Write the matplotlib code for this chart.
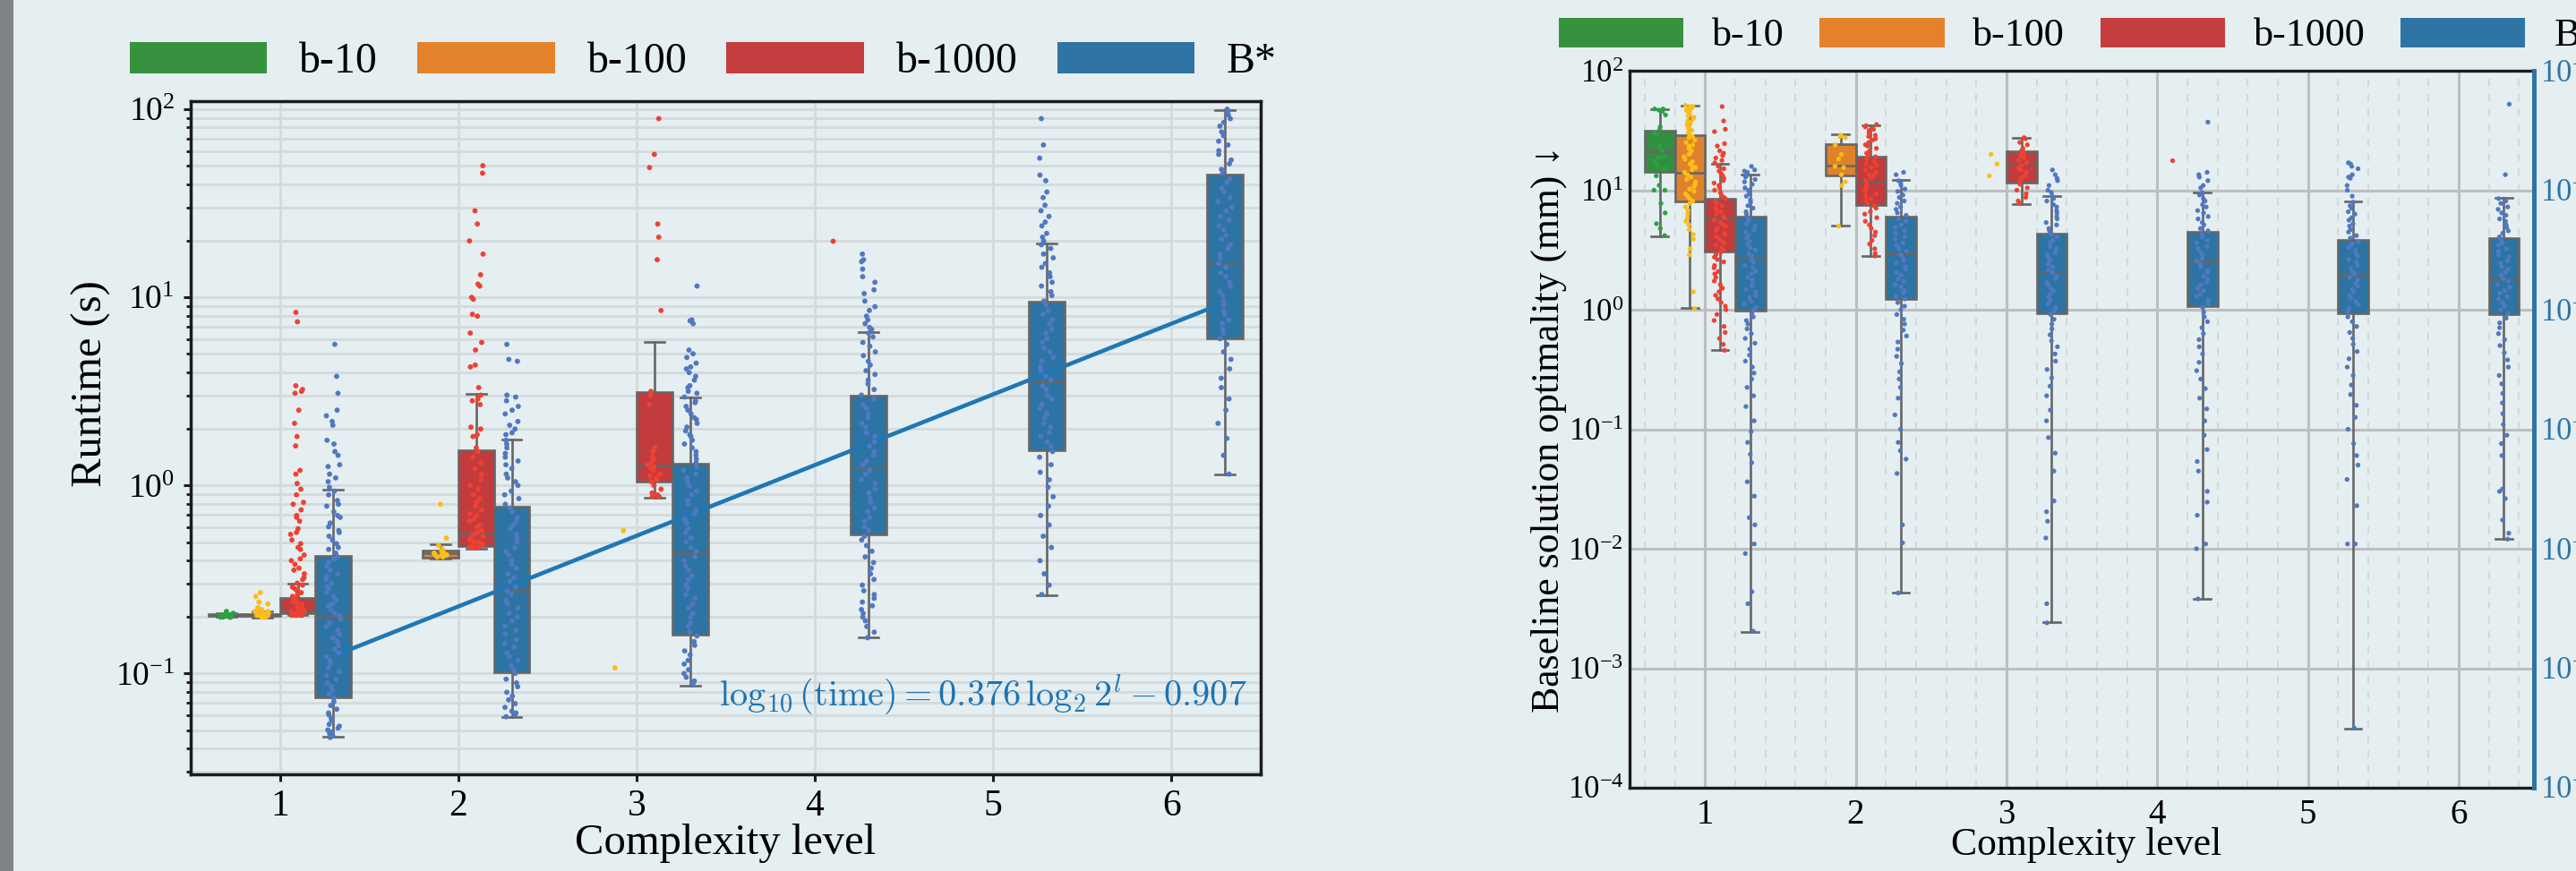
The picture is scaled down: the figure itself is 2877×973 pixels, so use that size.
import numpy as np
import pandas as pd
import matplotlib
matplotlib.use("Agg")
import matplotlib.pyplot as plt
from matplotlib.patches import Patch, Rectangle
from matplotlib.ticker import MultipleLocator, LogLocator, NullFormatter, NullLocator
import seaborn as sns

# ------------------------------------------------------------------
# data (log10 of the value for the strip points)
# ------------------------------------------------------------------
levels = [1, 2, 3, 4, 5, 6]
methods = ["b-10", "b-100", "b-1000", "B*"]

# runtime (s), log10, one list per complexity level
rt_b10 = [[-0.70, -0.69, -0.69, -0.70, -0.68, -0.69, -0.67, -0.69, -0.70, -0.68, -0.69, -0.70],
          [], [], [], [], []]
rt_b100 = [[-0.57, -0.59, -0.62, -0.63, -0.65, -0.66, -0.67, -0.67, -0.68, -0.68, -0.68, -0.69,
            -0.69, -0.69, -0.69, -0.70, -0.70, -0.70, -0.69, -0.68],
           [-0.10, -0.28, -0.32, -0.34, -0.35, -0.36, -0.36, -0.37, -0.37, -0.37, -0.38, -0.38,
            -0.36, -0.35, -0.37],
           [-0.24, -0.97], [], [], []]
rt_b1000 = [[0.92, 0.87, 0.53, 0.51, 0.50, 0.49, 0.40, 0.33, 0.26, 0.21, 0.08, 0.06, 0.01, -0.02,
             -0.05, -0.09, -0.10, -0.13, -0.16, -0.17, -0.19, -0.23, -0.25, -0.26, -0.29, -0.31,
             -0.33, -0.34, -0.37, -0.39, -0.40, -0.42, -0.44, -0.45, -0.47, -0.49, -0.50, -0.52,
             -0.53, -0.54, -0.55, -0.56, -0.57, -0.58, -0.59, -0.60, -0.61, -0.61, -0.62, -0.62,
             -0.63, -0.63, -0.64, -0.64, -0.65, -0.65, -0.66, -0.66, -0.66, -0.67, -0.67, -0.67,
             -0.68, -0.68, -0.68, -0.68, -0.69, -0.69, -0.69, -0.69, -0.69, -0.69],
            [1.70, 1.66, 1.46, 1.39, 1.30, 1.23, 1.12, 1.07, 1.06, 1.00, 0.99, 0.91, 0.90, 0.81,
             0.76, 0.72, 0.64, 0.63, 0.52, 0.48, 0.46, 0.45, 0.43, 0.31, 0.30, 0.27, 0.26, 0.20,
             0.18, 0.15, 0.12, 0.09, 0.06, 0.03, 0.00, -0.02, -0.05, -0.07, -0.09, -0.11, -0.13,
             -0.15, -0.16, -0.18, -0.19, -0.21, -0.22, -0.24, -0.25, -0.26, -0.27, -0.28, -0.29,
             -0.30, -0.30, -0.31, -0.31, -0.32, -0.32, -0.33, -0.33, -0.33, -0.32, -0.31, -0.30],
            [1.95, 1.76, 1.69, 1.39, 1.32, 1.20, 0.93, 0.50, 0.48, 0.43, 0.20, 0.18, 0.15, 0.14,
             0.12, 0.11, 0.10, 0.09, 0.08, 0.06, 0.05, 0.04, 0.03, 0.02, 0.00, -0.02, -0.04,
             -0.05, -0.06, -0.06],
            [1.30], [], []]
rt_bstar = [[0.75, 0.58, 0.49, 0.40, 0.37, 0.34, 0.32, 0.24, 0.22, 0.18, 0.16, 0.11, 0.10, 0.06,
             0.04, 0.02, -0.01, -0.03, -0.05, -0.08, -0.10, -0.11, -0.14, -0.16, -0.17, -0.20,
             -0.22, -0.24, -0.25, -0.27, -0.29, -0.31, -0.33, -0.34, -0.36, -0.38, -0.39, -0.41,
             -0.43, -0.45, -0.47, -0.48, -0.50, -0.52, -0.54, -0.55, -0.57, -0.59, -0.61, -0.63,
             -0.64, -0.66, -0.68, -0.69, -0.71, -0.73, -0.75, -0.77, -0.79, -0.81, -0.83, -0.85,
             -0.87, -0.89, -0.91, -0.93, -0.95, -0.97, -0.99, -1.01, -1.03, -1.05, -1.07, -1.09,
             -1.11, -1.13, -1.15, -1.17, -1.19, -1.21, -1.22, -1.24, -1.25, -1.27, -1.28, -1.29,
             -1.30, -1.31, -1.32, -1.33, -1.34],
            [0.75, 0.67, 0.66, 0.48, 0.47, 0.45, 0.42, 0.40, 0.38, 0.34, 0.32, 0.30, 0.28, 0.27,
             0.24, 0.22, 0.20, 0.17, 0.15, 0.13, 0.11, 0.09, 0.06, 0.04, 0.02, 0.00, -0.03, -0.05,
             -0.07, -0.10, -0.12, -0.14, -0.17, -0.19, -0.21, -0.23, -0.26, -0.28, -0.30, -0.33,
             -0.35, -0.37, -0.40, -0.42, -0.44, -0.47, -0.49, -0.51, -0.54, -0.56, -0.58, -0.61,
             -0.63, -0.65, -0.68, -0.70, -0.72, -0.75, -0.77, -0.79, -0.82, -0.84, -0.86, -0.89,
             -0.91, -0.93, -0.96, -0.98, -1.00, -1.03, -1.05, -1.07, -1.10, -1.12, -1.14, -1.16,
             -1.18, -1.20, -1.21, -1.22, -1.23],
            [1.06, 0.88, 0.875, 0.86, 0.72, 0.70, 0.68, 0.65, 0.63, 0.62, 0.60, 0.58, 0.56, 0.53,
             0.52, 0.50, 0.49, 0.47, 0.45, 0.44, 0.42, 0.40, 0.38, 0.36, 0.35, 0.33, 0.31, 0.29,
             0.27, 0.26, 0.24, 0.22, 0.20, 0.18, 0.16, 0.14, 0.12, 0.10, 0.08, 0.06, 0.04, 0.02,
             0.00, -0.03, -0.05, -0.08, -0.10, -0.13, -0.15, -0.18, -0.20, -0.23, -0.25, -0.28,
             -0.30, -0.33, -0.35, -0.38, -0.40, -0.43, -0.45, -0.48, -0.50, -0.53, -0.55, -0.58,
             -0.60, -0.63, -0.65, -0.68, -0.70, -0.73, -0.75, -0.78, -0.80, -0.83, -0.85, -0.88,
             -0.90, -0.93, -0.95, -0.98, -1.00, -1.02, -1.04, -1.05, -1.06],
            [1.23, 1.20, 1.19, 1.15, 1.11, 1.08, 1.04, 1.02, 0.98, 0.95, 0.93, 0.90, 0.88, 0.86,
             0.84, 0.83, 0.81, 0.79, 0.76, 0.74, 0.71, 0.69, 0.66, 0.64, 0.61, 0.59, 0.56, 0.54,
             0.51, 0.48, 0.46, 0.43, 0.41, 0.38, 0.36, 0.33, 0.31, 0.28, 0.26, 0.23, 0.21, 0.18,
             0.16, 0.13, 0.11, 0.08, 0.06, 0.03, 0.01, -0.02, -0.04, -0.07, -0.09, -0.12, -0.14,
             -0.17, -0.19, -0.22, -0.24, -0.27, -0.29, -0.32, -0.35, -0.38, -0.41, -0.44, -0.47,
             -0.50, -0.53, -0.56, -0.58, -0.60, -0.62, -0.64, -0.66, -0.68, -0.70, -0.72, -0.75,
             -0.78, -0.81],
            [1.95, 1.81, 1.74, 1.65, 1.62, 1.56, 1.53, 1.49, 1.46, 1.43, 1.40, 1.38, 1.34, 1.32,
             1.30, 1.28, 1.26, 1.23, 1.21, 1.18, 1.16, 1.13, 1.11, 1.08, 1.06, 1.03, 1.01, 0.98,
             0.96, 0.93, 0.91, 0.88, 0.86, 0.83, 0.81, 0.78, 0.76, 0.73, 0.71, 0.68, 0.66, 0.63,
             0.61, 0.58, 0.56, 0.53, 0.51, 0.48, 0.46, 0.43, 0.41, 0.38, 0.36, 0.33, 0.31, 0.28,
             0.26, 0.23, 0.21, 0.18, 0.15, 0.11, 0.07, 0.03, -0.01, -0.06, -0.11, -0.16, -0.21,
             -0.27, -0.33, -0.40, -0.47, -0.53, -0.58],
            [2.00, 1.99, 1.97, 1.95, 1.93, 1.91, 1.88, 1.86, 1.83, 1.81, 1.78, 1.76, 1.73, 1.71,
             1.68, 1.66, 1.63, 1.61, 1.58, 1.56, 1.53, 1.51, 1.48, 1.46, 1.43, 1.41, 1.38, 1.36,
             1.33, 1.31, 1.28, 1.26, 1.23, 1.21, 1.18, 1.16, 1.13, 1.11, 1.08, 1.06, 1.03, 1.01,
             0.98, 0.96, 0.93, 0.91, 0.88, 0.86, 0.83, 0.81, 0.78, 0.75, 0.71, 0.67, 0.62, 0.57,
             0.52, 0.46, 0.40, 0.33, 0.25, 0.16, 0.06]]

# box stats per level: (whislo, q1, median, q3, whishi), None = no box
rt_b10_box = [(0.200, 0.202, 0.204, 0.206, 0.209), None, None, None, None, None]
rt_b100_box = [(0.199, 0.202, 0.204, 0.208, 0.215), (0.41, 0.415, 0.434, 0.449, 0.484),
               None, None, None, None]
rt_b1000_box = [(0.204, 0.209, 0.215, 0.251, 0.30), (0.46, 0.474, 0.553, 1.53, 3.06),
                (0.86, 1.05, 1.27, 3.14, 5.76), None, None, None]
rt_bstar_box = [(0.046, 0.0746, 0.20, 0.42, 0.95), (0.059, 0.101, 0.274, 0.77, 1.76),
                (0.086, 0.161, 0.435, 1.30, 2.95), (0.156, 0.55, 1.23, 3.01, 6.5),
                (0.26, 1.54, 3.57, 9.47, 19.4), (1.15, 6.08, 15.1, 45.0, 99.3)]

# fitted runtime trend shown in the left panel
fit_slope = 0.376
fit_intercept = -0.907

# baseline solution optimality (mm), log10
op_b10 = [[1.68, 1.68, 1.67, 1.66, 1.63, 1.53, 1.51, 1.48, 1.47, 1.37, 1.33, 1.28, 1.27, 1.24,
           1.21, 1.18, 1.12, 1.04, 1.00, 1.00, 0.89, 0.81, 0.72, 0.68, 0.62],
          [], [], [], [], []]
op_b100 = [[1.71, 1.70, 1.70, 1.69, 1.68, 1.67, 1.66, 1.65, 1.64, 1.62, 1.61, 1.60, 1.58, 1.57,
            1.55, 1.53, 1.52, 1.50, 1.48, 1.47, 1.45, 1.44, 1.42, 1.40, 1.38, 1.37, 1.35, 1.33,
            1.31, 1.30, 1.28, 1.26, 1.24, 1.22, 1.20, 1.19, 1.17, 1.15, 1.13, 1.11, 1.09, 1.07,
            1.05, 1.03, 1.01, 0.99, 0.97, 0.95, 0.93, 0.91, 0.89, 0.86, 0.83, 0.80, 0.77, 0.74,
            0.71, 0.67, 0.63, 0.59, 0.51, 0.46, 0.15, 0.01],
           [1.46, 1.45, 1.44, 1.38, 1.30, 1.26, 1.20, 1.19, 1.13, 1.07, 1.04, 0.70],
           [1.30, 1.22, 1.12], [], [], []]
op_b1000 = [[1.70, 1.58, 1.51, 1.49, 1.39, 1.37, 1.33, 1.31, 1.29, 1.27, 1.25, 1.23, 1.20, 1.18,
             1.16, 1.14, 1.12, 1.10, 1.08, 1.06, 1.04, 1.02, 1.00, 0.98, 0.96, 0.94, 0.93, 0.91,
             0.89, 0.87, 0.85, 0.84, 0.82, 0.80, 0.78, 0.77, 0.75, 0.73, 0.71, 0.70, 0.68, 0.66,
             0.64, 0.63, 0.61, 0.59, 0.57, 0.56, 0.54, 0.52, 0.50, 0.48, 0.46, 0.44, 0.42, 0.40,
             0.37, 0.35, 0.32, 0.30, 0.27, 0.24, 0.21, 0.18, 0.15, 0.12, 0.09, 0.06, 0.03, 0.00,
             -0.04, -0.09, -0.14, -0.19, -0.24, -0.29, -0.34],
            [1.55, 1.54, 1.53, 1.51, 1.50, 1.48, 1.46, 1.45, 1.43, 1.42, 1.40, 1.38, 1.37, 1.35,
             1.33, 1.31, 1.29, 1.28, 1.26, 1.24, 1.22, 1.21, 1.19, 1.17, 1.15, 1.13, 1.12, 1.10,
             1.08, 1.07, 1.05, 1.03, 1.01, 0.99, 0.97, 0.95, 0.93, 0.91, 0.89, 0.87, 0.85, 0.82,
             0.80, 0.77, 0.74, 0.71, 0.68, 0.65, 0.62, 0.58, 0.55, 0.51, 0.47, 0.45],
            [1.44, 1.43, 1.40, 1.38, 1.35, 1.33, 1.31, 1.29, 1.27, 1.25, 1.23, 1.21, 1.19, 1.17,
             1.15, 1.12, 1.10, 1.07, 1.05, 1.02, 1.00, 0.97, 0.94, 0.91, 0.89],
            [1.25], [], []]
op_bstar = [[1.20, 1.17, 1.16, 1.15, 1.13, 1.11, 1.09, 1.07, 1.05, 1.02, 1.00, 0.97, 0.95, 0.92,
             0.90, 0.87, 0.85, 0.82, 0.80, 0.77, 0.75, 0.72, 0.70, 0.67, 0.65, 0.62, 0.60, 0.57,
             0.55, 0.52, 0.50, 0.47, 0.45, 0.42, 0.40, 0.37, 0.35, 0.32, 0.30, 0.27, 0.25, 0.22,
             0.20, 0.17, 0.15, 0.12, 0.10, 0.07, 0.05, 0.02, 0.00, -0.03, -0.06, -0.09, -0.12,
             -0.16, -0.20, -0.24, -0.28, -0.33, -0.38, -0.43, -0.48, -0.53, -0.58, -0.65, -0.72,
             -0.81, -0.93, -1.02, -1.11, -1.21, -1.28, -1.44, -1.56, -1.74, -1.80, -1.96, -2.04,
             -2.36, -2.46, -2.69],
            [1.15, 1.13, 1.08, 1.06, 1.04, 1.01, 0.99, 0.96, 0.94, 0.91, 0.89, 0.86, 0.84, 0.81,
             0.79, 0.76, 0.74, 0.71, 0.69, 0.66, 0.64, 0.61, 0.59, 0.56, 0.54, 0.51, 0.49, 0.46,
             0.44, 0.41, 0.39, 0.36, 0.34, 0.31, 0.29, 0.26, 0.24, 0.21, 0.19, 0.16, 0.14, 0.11,
             0.09, 0.06, 0.03, 0.00, -0.04, -0.08, -0.12, -0.17, -0.22, -0.27, -0.33, -0.39,
             -0.45, -0.52, -0.58, -0.65, -0.74, -0.88, -1.00, -1.11, -1.18, -1.25, -1.37, -1.80,
             -1.95, -2.37],
            [1.17, 1.13, 1.10, 1.08, 1.04, 1.00, 0.98, 0.95, 0.93, 0.91, 0.88, 0.86, 0.83, 0.81,
             0.78, 0.76, 0.73, 0.71, 0.68, 0.66, 0.63, 0.61, 0.58, 0.56, 0.53, 0.51, 0.48, 0.46,
             0.43, 0.41, 0.38, 0.36, 0.33, 0.31, 0.28, 0.26, 0.23, 0.21, 0.18, 0.16, 0.13, 0.11,
             0.08, 0.05, 0.02, -0.01, -0.04, -0.08, -0.12, -0.16, -0.21, -0.26, -0.31, -0.37,
             -0.43, -0.50, -0.57, -0.64, -0.72, -0.84, -0.93, -1.07, -1.20, -1.35, -1.60, -1.69,
             -1.77, -1.91, -2.46, -2.62],
            [1.57, 1.15, 1.13, 1.11, 1.08, 1.04, 1.02, 0.98, 0.96, 0.93, 0.91, 0.88, 0.86, 0.83,
             0.81, 0.78, 0.76, 0.73, 0.71, 0.68, 0.66, 0.63, 0.61, 0.58, 0.56, 0.53, 0.51, 0.48,
             0.46, 0.43, 0.41, 0.38, 0.36, 0.33, 0.31, 0.28, 0.26, 0.23, 0.21, 0.18, 0.16, 0.13,
             0.11, 0.08, 0.05, 0.02, -0.02, -0.06, -0.10, -0.15, -0.20, -0.25, -0.31, -0.37,
             -0.44, -0.51, -0.58, -0.66, -0.74, -0.83, -0.93, -1.05, -1.17, -1.27, -1.35, -1.52,
             -1.61, -1.72, -1.96, -2.00, -2.42],
            [1.23, 1.22, 1.20, 1.18, 1.13, 1.11, 1.10, 1.04, 1.00, 0.95, 0.90, 0.87, 0.85, 0.82,
             0.80, 0.77, 0.75, 0.72, 0.70, 0.67, 0.65, 0.62, 0.60, 0.57, 0.55, 0.52, 0.50, 0.47,
             0.45, 0.42, 0.40, 0.37, 0.35, 0.32, 0.30, 0.27, 0.25, 0.22, 0.20, 0.17, 0.15, 0.12,
             0.10, 0.07, 0.04, 0.01, -0.02, -0.06, -0.10, -0.14, -0.19, -0.24, -0.29, -0.35,
             -0.41, -0.48, -0.55, -0.63, -0.71, -0.80, -0.90, -1.00, -1.12, -1.22, -1.30, -1.42,
             -1.64, -1.96, -1.96, -3.50],
            [1.72, 1.13, 0.93, 0.91, 0.89, 0.86, 0.84, 0.81, 0.79, 0.76, 0.74, 0.71, 0.69, 0.66,
             0.64, 0.61, 0.59, 0.56, 0.54, 0.51, 0.49, 0.46, 0.44, 0.41, 0.39, 0.36, 0.34, 0.31,
             0.29, 0.26, 0.24, 0.21, 0.19, 0.16, 0.14, 0.11, 0.09, 0.06, 0.03, 0.00, -0.03, -0.07,
             -0.11, -0.15, -0.20, -0.25, -0.30, -0.36, -0.42, -0.48, -0.55, -0.62, -0.70, -0.78,
             -0.87, -0.96, -1.05, -1.12, -1.22, -1.50, -1.52, -1.58, -1.76, -1.87, -1.92]]

op_b10_box = [(4.1, 14.3, 21.3, 31.3, 48.0), None, None, None, None, None]
op_b100_box = [(1.03, 8.1, 14.1, 28.9, 51.0), (5.07, 13.2, 16.2, 24.3, 29.2),
               None, None, None, None]
op_b1000_box = [(0.46, 3.08, 5.8, 8.5, 16.5), (2.81, 7.5, 11.7, 19.2, 34.9),
                (7.6, 11.6, 16.5, 21.3, 27.5), None, None, None]
op_bstar_box = [(0.00202, 0.986, 2.74, 6.0, 13.5), (0.00428, 1.24, 2.96, 5.97, 12.2),
                (0.00243, 0.93, 2.07, 4.3, 8.88), (0.0038, 1.08, 2.54, 4.47, 9.55),
                (0.000314, 0.93, 1.96, 3.85, 8.05), (0.0121, 0.92, 1.78, 3.98, 8.58)]

# ------------------------------------------------------------------
# style
# ------------------------------------------------------------------
BG = "#e5eef0"
EDGE = "#666666"
SPINE = "#1c1c1c"
BLUE_AX = "#2e75a5"
box_colors = ["#338f40", "#e0822c", "#c23b3d", "#2c74a3"]
point_colors = ["#2ea043", "#fbbd18", "#ee4132", "#5078c2"]
legend_colors = ["#36923f", "#e4822b", "#c53e3f", "#2e75a5"]

plt.rcParams["font.family"] = ["Liberation Serif", "DejaVu Serif"]
plt.rcParams["mathtext.fontset"] = "stix"


def long_frame(groups):
    rows = []
    for m, per_level in zip(methods, groups):
        for lvl, vals in zip(levels, per_level):
            rows += [(lvl, m, 10.0 ** v) for v in vals]
    return pd.DataFrame(rows, columns=["level", "method", "value"])


def draw_boxes(ax, groups):
    offsets = [-0.3, -0.1, 0.1, 0.3]
    for off, col, per_level in zip(offsets, box_colors, groups):
        stats, pos = [], []
        for i, s in enumerate(per_level):
            if s is None:
                continue
            lo, q1, med, q3, hi = s
            stats.append(dict(whislo=lo, q1=q1, med=med, q3=q3, whishi=hi))
            pos.append(i + off)
        ax.bxp(stats, positions=pos, widths=0.2, capwidths=0.11, patch_artist=True,
               showfliers=False, manage_ticks=False, zorder=2,
               boxprops=dict(facecolor=col, edgecolor=EDGE, linewidth=1.9),
               whiskerprops=dict(color=EDGE, linewidth=1.9),
               capprops=dict(color=EDGE, linewidth=1.9),
               medianprops=dict(color=EDGE, linewidth=1.9))


def draw_points(ax, groups, size):
    np.random.seed(7)
    sns.stripplot(data=long_frame(groups), x="level", y="value", hue="method",
                  order=levels, hue_order=methods,
                  palette=dict(zip(methods, point_colors)), dodge=True, jitter=0.16,
                  size=size, linewidth=0, legend=False, ax=ax, zorder=4)


fig = plt.figure(figsize=(28.77, 9.73), dpi=100)
fig.patch.set_facecolor(BG)
fig.add_artist(Rectangle((0, 0), 15 / 2877, 1, transform=fig.transFigure,
                         facecolor="#808285", edgecolor="none"))

# ---------------- left panel: runtime ----------------
axL = fig.add_axes([213 / 2877, 1 - 865 / 973, 1195 / 2877, 752 / 973])
axL.set_facecolor(BG)
axL.set_yscale("log")
draw_boxes(axL, [rt_b10_box, rt_b100_box, rt_b1000_box, rt_bstar_box])
fit_idx = np.arange(len(levels))
axL.plot(fit_idx + 0.3, 10 ** (fit_slope * fit_idx + fit_intercept),
         color="#1f77b4", lw=3.3, zorder=3, solid_capstyle="butt")
draw_points(axL, [rt_b10, rt_b100, rt_b1000, rt_bstar], 4.2)

axL.set_xlim(-0.5, 5.5)
axL.set_ylim(10 ** -1.536, 10 ** 2.043)
axL.set_xticks(range(len(levels)))
axL.set_xticklabels([str(l) for l in levels])
axL.yaxis.set_major_locator(LogLocator(base=10, numticks=10))
axL.yaxis.set_minor_locator(LogLocator(base=10, subs=np.arange(2, 10), numticks=20))
axL.yaxis.set_minor_formatter(NullFormatter())
axL.set_axisbelow(True)
axL.grid(True, which="both", axis="y", color="#d2dadc", lw=2)
axL.grid(True, which="major", axis="x", color="#d2dadc", lw=2)
axL.tick_params(axis="x", which="major", direction="out", length=6, width=2.2,
                color=SPINE, labelsize=30, pad=6)
axL.tick_params(axis="y", which="major", direction="out", length=6, width=2.2,
                color=SPINE, labelsize=27, pad=7)
axL.tick_params(axis="y", which="minor", direction="out", length=3.5, width=2,
                color=SPINE)
for sp in axL.spines.values():
    sp.set_color(SPINE)
    sp.set_linewidth(2.5)
axL.set_xlabel("Complexity level", fontsize=35)
axL.xaxis.set_label_coords(0.5, -0.102)
axL.xaxis.label.set_va("center")
axL.set_ylabel("Runtime (s)", fontsize=35)
axL.yaxis.set_label_coords(-0.093, 0.581)
axL.yaxis.label.set_va("center")
axL.text(0.987, 0.118, r"$\log_{10}(\mathrm{time}) = 0.376\,\log_2 2^l - 0.907$",
         transform=axL.transAxes, ha="right", va="center", color="#1a74b6",
         fontsize=29, math_fontfamily="cm", zorder=5)

handles = [Patch(facecolor=c, edgecolor="none") for c in legend_colors]
fig.legend(handles, methods, loc="center left", bbox_to_anchor=(145 / 2877, 1 - 69 / 973),
           ncol=4, frameon=False, fontsize=34.5, handlelength=3.2, handleheight=0.77,
           handletextpad=0.75, columnspacing=0.92, borderpad=0, borderaxespad=0)

# ---------------- right panel: optimality ----------------
axR = fig.add_axes([1820 / 2877, 1 - 880 / 973, 1010 / 2877, 801 / 973])
axR.set_facecolor(BG)
axR.set_yscale("log")
draw_boxes(axR, [op_b10_box, op_b100_box, op_b1000_box, op_bstar_box])
draw_points(axR, [op_b10, op_b100, op_b1000, op_bstar], 3.8)

axR.set_xlim(-0.5, 5.5)
axR.set_ylim(1e-4, 1e2)
axR.set_xticks(range(len(levels)))
axR.set_xticklabels([str(l) for l in levels])
axR.xaxis.set_minor_locator(MultipleLocator(0.2))
axR.yaxis.set_major_locator(LogLocator(base=10, numticks=10))
axR.yaxis.set_minor_locator(NullLocator())
axR.set_axisbelow(True)
axR.grid(True, which="major", color="#bcbfc2", lw=2.2)
axR.grid(True, which="minor", axis="x", color="#d3d9db", lw=1.5, linestyle=(0, (4, 4)))
axR.tick_params(axis="x", which="both", length=0, labelsize=28, pad=9)
axR.tick_params(axis="y", which="both", length=0, labelsize=25, pad=5)
for name in ["left", "top", "bottom"]:
    axR.spines[name].set_color(SPINE)
    axR.spines[name].set_linewidth(2.4)
axR.spines["right"].set_visible(False)
axR.set_xlabel("Complexity level", fontsize=31.5)
axR.xaxis.set_label_coords(0.505, -0.08)
axR.xaxis.label.set_va("center")
axR.set_ylabel("Baseline solution optimality (mm) \u2193", fontsize=31.5)
axR.yaxis.set_label_coords(-0.089, 0.5)
axR.yaxis.label.set_va("center")

ax2 = axR.twinx()
ax2.set_yscale("log")
ax2.set_ylim(1e-9, 1e-3)
ax2.yaxis.set_major_locator(LogLocator(base=10, numticks=10))
ax2.yaxis.set_minor_locator(NullLocator())
ax2.tick_params(axis="y", length=0, labelsize=25, labelcolor=BLUE_AX, pad=5)
for name in ["left", "top", "bottom"]:
    ax2.spines[name].set_visible(False)
ax2.spines["right"].set_color(BLUE_AX)
ax2.spines["right"].set_linewidth(3.6)

fig.legend(handles, methods, loc="center left", bbox_to_anchor=(1741 / 2877, 1 - 40 / 973),
           ncol=4, frameon=False, fontsize=31.8, handlelength=3.15, handleheight=0.77,
           handletextpad=0.72, columnspacing=0.9, borderpad=0, borderaxespad=0)

fig.savefig("out.png", dpi=100, facecolor=BG)
